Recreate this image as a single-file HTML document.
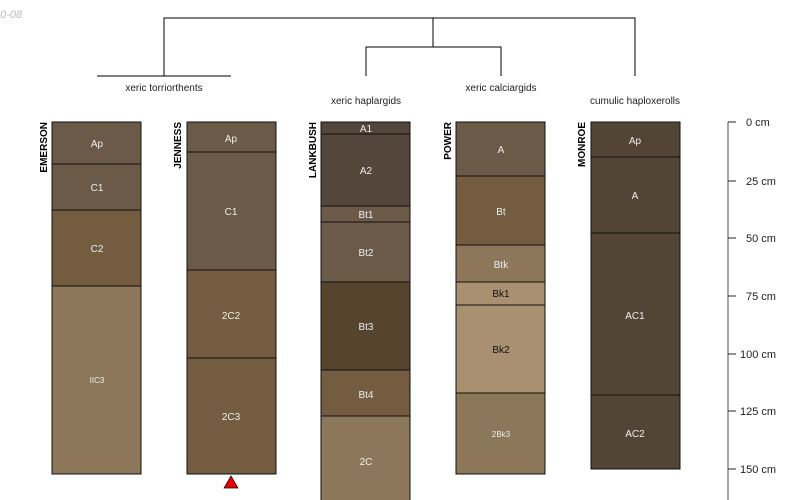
<!DOCTYPE html><html><head><style>body{margin:0;background:#fff}svg{display:block}</style></head><body>
<svg width="800" height="500" xmlns="http://www.w3.org/2000/svg" font-family="Liberation Sans, sans-serif">
<text x="-6" y="18" font-size="11" fill="#bbb" font-style="italic">10-08</text>
<g stroke="#000" stroke-width="1" fill="none">
<path d="M164 76V18H635V76M97 76H231M433 18V47M366 76V47H501V76"/>
</g>
<g font-size="10" fill="#222" text-anchor="middle">
<text x="164" y="91">xeric torriorthents</text>
<text x="366" y="104">xeric haplargids</text>
<text x="501" y="91">xeric calciargids</text>
<text x="635" y="104">cumulic haploxerolls</text>
</g>
<g font-size="10" font-weight="bold" text-anchor="end">
<text transform="translate(47,122) rotate(-90)">EMERSON</text>
<text transform="translate(181,122) rotate(-90)">JENNESS</text>
<text transform="translate(316,122) rotate(-90)">LANKBUSH</text>
<text transform="translate(451,122) rotate(-90)">POWER</text>
<text transform="translate(585,122) rotate(-90)">MONROE</text>
</g>
<g stroke="#111" stroke-width="1">
<rect x="52" y="122" width="89" height="42" fill="#6b5a48"/>
<rect x="52" y="164" width="89" height="46" fill="#6b5a48"/>
<rect x="52" y="210" width="89" height="76" fill="#735c40"/>
<rect x="52" y="286" width="89" height="188" fill="#8c775a"/>
<rect x="187" y="122" width="89" height="30" fill="#6b5a48"/>
<rect x="187" y="152" width="89" height="118" fill="#6b5a48"/>
<rect x="187" y="270" width="89" height="88" fill="#735c40"/>
<rect x="187" y="358" width="89" height="116" fill="#735c40"/>
<rect x="321" y="122" width="89" height="12" fill="#54463a"/>
<rect x="321" y="134" width="89" height="72" fill="#54463a"/>
<rect x="321" y="206" width="89" height="16" fill="#6b5a48"/>
<rect x="321" y="222" width="89" height="60" fill="#6b5a48"/>
<rect x="321" y="282" width="89" height="88" fill="#57442e"/>
<rect x="321" y="370" width="89" height="46" fill="#735c40"/>
<rect x="321" y="416" width="89" height="90" fill="#8c775a"/>
<rect x="456" y="122" width="89" height="54" fill="#6b5a48"/>
<rect x="456" y="176" width="89" height="69" fill="#735c40"/>
<rect x="456" y="245" width="89" height="37" fill="#8c775a"/>
<rect x="456" y="282" width="89" height="23" fill="#a89070"/>
<rect x="456" y="305" width="89" height="88" fill="#a89070"/>
<rect x="456" y="393" width="89" height="81" fill="#8c775a"/>
<rect x="591" y="122" width="89" height="35" fill="#524535"/>
<rect x="591" y="157" width="89" height="76" fill="#524535"/>
<rect x="591" y="233" width="89" height="162" fill="#524535"/>
<rect x="591" y="395" width="89" height="74" fill="#524535"/>
</g>
<g font-size="10" fill="#eee" text-anchor="middle">
<text x="97" y="147">Ap</text><text x="97" y="191">C1</text><text x="97" y="252">C2</text><text x="97" y="383" font-size="8">IIC3</text>
<text x="231" y="142">Ap</text><text x="231" y="215">C1</text><text x="231" y="319">2C2</text><text x="231" y="420">2C3</text>
<text x="366" y="132">A1</text><text x="366" y="174">A2</text><text x="366" y="218">Bt1</text><text x="366" y="256">Bt2</text><text x="366" y="330">Bt3</text><text x="366" y="398">Bt4</text><text x="366" y="465">2C</text>
<text x="501" y="153">A</text><text x="501" y="215">Bt</text><text x="501" y="268">Btk</text>
<text x="501" y="297" fill="#111">Bk1</text><text x="501" y="353" fill="#111">Bk2</text><text x="501" y="437" font-size="8">2Bk3</text>
<text x="635" y="144">Ap</text><text x="635" y="199">A</text><text x="635" y="319">AC1</text><text x="635" y="437">AC2</text>
</g>
<path d="M224 488L231 476L238 488Z" fill="#e00" stroke="#000" stroke-width="0.7"/>
<g stroke="#888" stroke-width="1.5"><path d="M728 122V500"/></g>
<g stroke="#222" stroke-width="1"><path d="M728 122H736M728 181H736M728 238H736M728 296H736M728 354H736M728 411H736M728 469H736"/></g>
<g font-size="11" fill="#222">
<text x="746" y="126">0 cm</text><text x="746" y="185">25 cm</text><text x="746" y="242">50 cm</text><text x="746" y="300">75 cm</text><text x="740" y="358">100 cm</text><text x="740" y="415">125 cm</text><text x="740" y="473">150 cm</text>
</g>
</svg></body></html>
